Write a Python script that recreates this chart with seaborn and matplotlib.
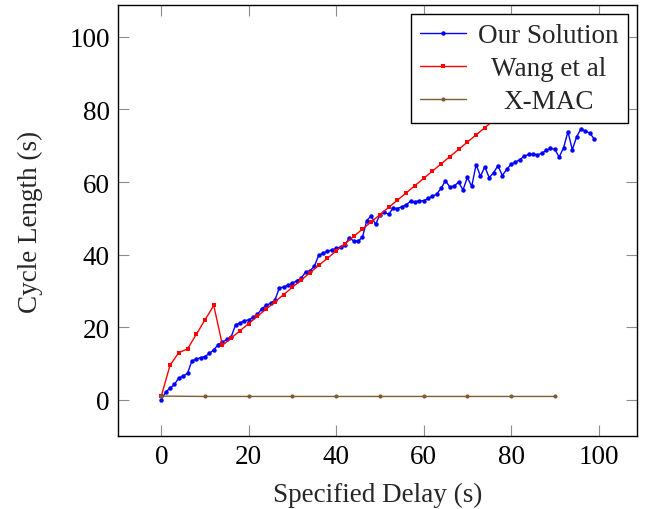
import pandas as pd
import seaborn as sns
import matplotlib.pyplot as plt
import numpy as np

# values
ours_x = list(range(0, 100))
ours_y = [0.0, 2.1, 3.2, 4.2, 6.0, 6.5, 7.3, 10.7, 11.2, 11.6,
          11.9, 12.8, 13.7, 15.2, 15.9, 16.6, 17.4, 20.7, 21.1, 21.8,
          22.0, 22.7, 23.5, 25.1, 26.0, 26.6, 27.5, 30.8, 31.1, 31.6,
          32.1, 32.8, 33.5, 35.2, 35.5, 36.8, 39.8, 40.4, 40.9, 41.3,
          41.7, 42.1, 42.6, 44.6, 43.8, 43.7, 44.8, 49.4, 50.7, 48.3,
          51.0, 51.7, 51.1, 52.8, 52.7, 53.2, 53.7, 54.7, 54.5, 54.9,
          54.8, 55.5, 56.1, 56.7, 58.3, 60.4, 58.6, 58.9, 60.0, 57.8,
          61.3, 58.8, 64.8, 61.6, 64.2, 61.2, 62.6, 64.5, 61.8, 63.5,
          64.9, 65.5, 66.2, 67.1, 67.6, 67.7, 67.5, 67.9, 68.7, 69.3,
          69.0, 66.9, 69.4, 73.9, 68.9, 72.5, 74.7, 74.0, 73.5, 71.9]

wang_x = list(range(0, 100, 2))
wang_y = [1.0, 9.5, 13.0, 14.0, 18.0, 22.0, 26.0, 15.0, 17.0, 19.0,
          21.0, 23.0, 25.0, 27.0, 29.0, 31.0, 33.0, 35.0, 37.0, 39.0,
          41.0, 43.0, 45.0, 47.0, 49.0, 51.0, 53.0, 55.0, 57.0, 59.0,
          61.0, 63.0, 65.0, 67.0, 69.0, 71.0, 73.0, 75.0, 77.0, 79.0,
          81.0, 83.0, 85.0, 87.0, 89.0, 91.0, 93.0, 95.0, 97.0, 99.0]

xmac_x = [0, 10, 20, 30, 40, 50, 60, 70, 80, 90]
xmac_y = [1.0, 0.9, 0.9, 0.9, 0.9, 0.9, 0.9, 0.9, 0.9, 0.9]

labels = ['Our Solution', 'Wang et al', 'X-MAC']
ticks = [0, 20, 40, 60, 80, 100]

sns.set_style('ticks')
plt.rcParams['font.family'] = ['Liberation Serif', 'DejaVu Serif']

fs = 19.5
fig = plt.figure(figsize=(6.48, 5.10), dpi=100)
ax = fig.add_axes([118 / 648, 1 - 437 / 510, (637 - 118) / 648, (437 - 6) / 510])

sns.lineplot(x=ours_x, y=ours_y, ax=ax, color='#0000ff', lw=1.0, marker='o',
             markersize=3.2, markeredgewidth=0, label=labels[0], estimator=None, sort=False)
sns.lineplot(x=wang_x, y=wang_y, ax=ax, color='#ff0000', lw=1.0, marker='s',
             markersize=3.2, markeredgewidth=0, label=labels[1], estimator=None, sort=False)
sns.lineplot(x=xmac_x, y=xmac_y, ax=ax, color='#7f5a33', lw=1.0, marker='o',
             markersize=3.0, markeredgewidth=0, label=labels[2], estimator=None, sort=False)

ax.set_xlim(-9.9, 108.8)
ax.set_ylim(-10, 108.8)
ax.set_xticks(ticks)
ax.set_yticks(ticks)
ax.tick_params(direction='in', length=8, width=0.8, color='#8c8c8c',
               top=True, right=True, labelsize=fs, pad=6, labelcolor='black')
for s in ax.spines.values():
    s.set_color('black')
    s.set_linewidth(1.0)

ax.set_xlabel('Specified Delay (s)', fontsize=fs, labelpad=9)
ax.set_ylabel('Cycle Length (s)', fontsize=fs, labelpad=19)

leg = ax.legend(loc='upper right', fontsize=fs, frameon=True, fancybox=False,
                framealpha=1, edgecolor='black', handlelength=1.7, handletextpad=0.45,
                labelspacing=0.3, borderaxespad=0.35, borderpad=0.32)
leg.get_frame().set_linewidth(1.0)

# center the legend texts like pgfplots does
fig.canvas.draw()
r = fig.canvas.get_renderer()
texts = leg.get_texts()
widths = [t.get_window_extent(r).width for t in texts]
wmax = max(widths)
for t, w in zip(texts, widths):
    t.set_position(((wmax - w) / 2, 0))

fig.savefig('out.png', dpi=100)
